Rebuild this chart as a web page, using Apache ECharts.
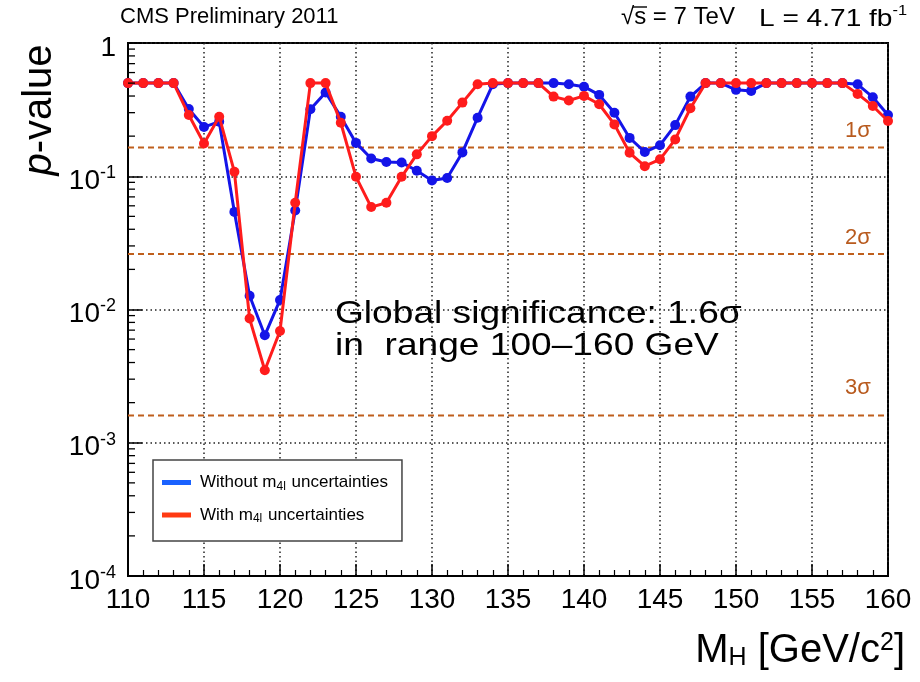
<!DOCTYPE html>
<html>
<head>
<meta charset="utf-8">
<script src="https://cdn.jsdelivr.net/npm/echarts@6/dist/echarts.min.js"></script>
<style>
html,body{margin:0;padding:0;background:#fff;}
#chart{width:920px;height:682px;}
</style>
</head>
<body>
<div id="chart"></div>
<script>
// Higgs mass hypotheses (GeV/c^2)
var masses = [110,111,112,113,114,115,116,117,118,119,120,121,122,123,124,125,126,127,128,129,130,131,132,133,134,135,136,137,138,139,140,141,142,143,144,145,146,147,148,149,150,151,152,153,154,155,156,157,158,159,160];
// local p-values without m4l uncertainties
var pWithout = [0.5,0.5,0.5,0.5,0.32,0.234,0.257,0.054,0.0127,0.0064,0.0118,0.0554,0.318,0.425,0.28,0.178,0.136,0.128,0.127,0.11,0.093,0.097,0.151,0.275,0.49,0.5,0.5,0.5,0.5,0.49,0.47,0.408,0.30,0.194,0.152,0.171,0.242,0.396,0.5,0.5,0.445,0.437,0.5,0.5,0.5,0.5,0.5,0.5,0.49,0.392,0.288];
// local p-values with m4l uncertainties
var pWith = [0.5,0.5,0.5,0.5,0.288,0.176,0.28,0.108,0.00855,0.0035,0.0069,0.0633,0.5,0.5,0.252,0.099,0.0587,0.0633,0.099,0.146,0.2,0.261,0.357,0.49,0.5,0.5,0.5,0.5,0.396,0.37,0.401,0.347,0.245,0.15,0.119,0.134,0.189,0.324,0.5,0.5,0.5,0.5,0.5,0.5,0.5,0.5,0.5,0.5,0.415,0.337,0.26];
// sigma reference levels as drawn
var sigmaNames = ['1\u03c3','2\u03c3','3\u03c3'];
var sigmaLevels = [0.1645,0.0261,0.0016];
// x tick labels
var xTicks = [110,115,120,125,130,135,140,145,150,155,160];
var seriesNames = ['Without m4l uncertainties','With m4l uncertainties'];

var FONT = 'Liberation Sans, Arial, Helvetica, sans-serif';

var minorY = [];
for (var k = -4; k < 0; k++) {
  for (var m = 2; m <= 9; m++) minorY.push([110, m * Math.pow(10, k)]);
}

var chart = echarts.init(document.getElementById('chart'), null, {renderer:'canvas'});

function toPairs(arr){ return masses.map(function(x,i){ return [x, arr[i]]; }); }

var sigmaSeries = sigmaLevels.map(function(v, i){
  return {
    name: 'sigma' + (i+1), type: 'line', silent: true, z: 2,
    data: [[110, v], [160, v]],
    showSymbol: false, symbol: 'none',
    lineStyle: {color: '#bf5f1c', width: 2, type: [6, 4]}
  };
});

var option = {
  backgroundColor: '#fff',
  animation: false,
  textStyle: {fontFamily: FONT},
  grid: {left: 128, right: 32, top: 43, bottom: 106, show: true, borderColor: '#000', borderWidth: 2, backgroundColor: 'transparent'},
  xAxis: {
    type: 'value', min: 110, max: 160, interval: 5,
    axisLine: {show: true, lineStyle: {color: '#000', width: 2}},
    axisTick: {show: true, inside: true, length: 12, lineStyle: {color: '#000', width: 1.5}},
    minorTick: {show: true, splitNumber: 5, length: 6, lineStyle: {color: '#000', width: 1.2}},
    splitLine: {show: true, lineStyle: {color: '#222', width: 1.5, type: [1.5, 3]}},
    axisLabel: {fontSize: 28, color: '#000', margin: 10, fontFamily: FONT,
      formatter: function(v){ return xTicks.indexOf(v) >= 0 ? String(v) : ''; }}
  },
  yAxis: {
    type: 'log', logBase: 10, min: 0.0001, max: 1,
    axisLine: {show: true, lineStyle: {color: '#000', width: 2}},
    axisTick: {show: true, inside: true, length: 14, lineStyle: {color: '#000', width: 1.5}},
    splitLine: {show: true, lineStyle: {color: '#222', width: 1.5, type: [1.5, 3]}},
    axisLabel: {
      color: '#000', margin: 12, fontFamily: FONT,
      formatter: function(v){
        var e = Math.round(Math.log(v)/Math.LN10);
        if (e === 0) return '{b|1}';
        return '{b|10}{s|' + e + '}';
      },
      rich: {
        b: {fontSize: 28, color: '#000', fontFamily: FONT, lineHeight: 30, padding: [10,0,0,0]},
        s: {fontSize: 18, color: '#000', fontFamily: FONT, lineHeight: 30, padding: [0,0,6,0]}
      }
    }
  },
  legend: {
    orient: 'vertical', left: 153, top: 460, padding: [14, 14, 16, 9],
    itemGap: 14, itemWidth: 29, itemHeight: 5, icon: 'rect',
    borderColor: '#444', borderWidth: 1.5, backgroundColor: '#fff',
    selectedMode: false,
    textStyle: {fontSize: 17, color: '#000', fontFamily: FONT,
      rich: {
        t: {fontSize: 17, color: '#000', fontFamily: FONT, padding: [0,0,0,4]},
        u: {fontSize: 12, color: '#000', fontFamily: FONT, padding: [8,1,0,0]},
        r: {fontSize: 17, color: '#000', fontFamily: FONT}
      }
    },
    formatter: function(name){
      var parts = name.split('m4l');
      return '{t|' + parts[0] + 'm}{u|4l}{r|' + parts[1] + '}';
    },
    data: [
      {name: seriesNames[0], itemStyle: {color: '#1a62ff'}},
      {name: seriesNames[1], itemStyle: {color: '#ff3a12'}}
    ]
  },
  series: [
    {
      name: 'minorYTicks', type: 'custom', silent: true, clip: false, z: 5,
      data: minorY,
      encode: {x: 0, y: 1},
      renderItem: function(params, api){
        var p = api.coord([api.value(0), api.value(1)]);
        return {type: 'line', shape: {x1: p[0], y1: p[1], x2: p[0] + 7, y2: p[1]},
          style: {stroke: '#000', lineWidth: 1.3}};
      }
    }
  ].concat(sigmaSeries).concat([
    {
      name: seriesNames[0], type: 'line', data: toPairs(pWithout), z: 3,
      symbol: 'circle', symbolSize: 10,
      lineStyle: {color: '#1414e8', width: 3},
      itemStyle: {color: '#1414e8'}
    },
    {
      name: seriesNames[1], type: 'line', data: toPairs(pWith), z: 4,
      symbol: 'circle', symbolSize: 10,
      lineStyle: {color: '#ff1c1c', width: 3},
      itemStyle: {color: '#ff1c1c'}
    }
  ]),
  graphic: [
    {type: 'text', x: 120, y: 6, style: {text: 'CMS Preliminary 2011', font: '22px ' + FONT, fill: '#000'}},
    {type: 'text', x: 621, y: 5, style: {text: '\u221As = 7 TeV', font: '24px ' + FONT, fill: '#000'}},
    {type: 'line', shape: {x1: 633, y1: 7, x2: 647, y2: 7}, style: {stroke: '#000', lineWidth: 1.4}},
    {type: 'text', x: 759, y: 1, scaleX: 1.17, style: {
      text: '{a|L = 4.71 fb}{s|-1}',
      rich: {a: {fontSize: 24, fontFamily: FONT, fill: '#000', padding: [6,0,0,0]}, s: {fontSize: 14, fontFamily: FONT, fill: '#000', padding: [0,0,10,0]}}
    }},
    {type: 'text', x: 40, y: 110, rotation: Math.PI/2, style: {
      text: '{i|p}{n|-value}', align: 'center', verticalAlign: 'middle',
      rich: {i: {fontSize: 40, fontStyle: 'italic', fontFamily: FONT, fill: '#000'}, n: {fontSize: 40, fontFamily: FONT, fill: '#000'}}
    }},
    {type: 'text', right: 15, top: 631, style: {
      text: '{m|M}{h|H}{m| [GeV/c}{p|2}{m|]}',
      rich: {
        m: {fontSize: 40, fontFamily: FONT, fill: '#000', lineHeight: 46},
        h: {fontSize: 25, fontFamily: FONT, fill: '#000', padding: [15,0,0,0], lineHeight: 46},
        p: {fontSize: 25, fontFamily: FONT, fill: '#000', padding: [0,0,15,0], lineHeight: 46}
      }
    }},
    {type: 'text', x: 335, y: 298, scaleX: 1.16, style: {text: 'Global significance: 1.6\u03c3\nin  range 100\u2013160 GeV', font: '32px ' + FONT, fill: '#000', lineHeight: 32}},
    {type: 'text', x: 845, y: 120, style: {text: sigmaNames[0], font: '22px ' + FONT, fill: '#b85a1e'}},
    {type: 'text', x: 845, y: 227, style: {text: sigmaNames[1], font: '22px ' + FONT, fill: '#b85a1e'}},
    {type: 'text', x: 845, y: 377, style: {text: sigmaNames[2], font: '22px ' + FONT, fill: '#b85a1e'}}
  ]
};
chart.setOption(option);
</script>
</body>
</html>
